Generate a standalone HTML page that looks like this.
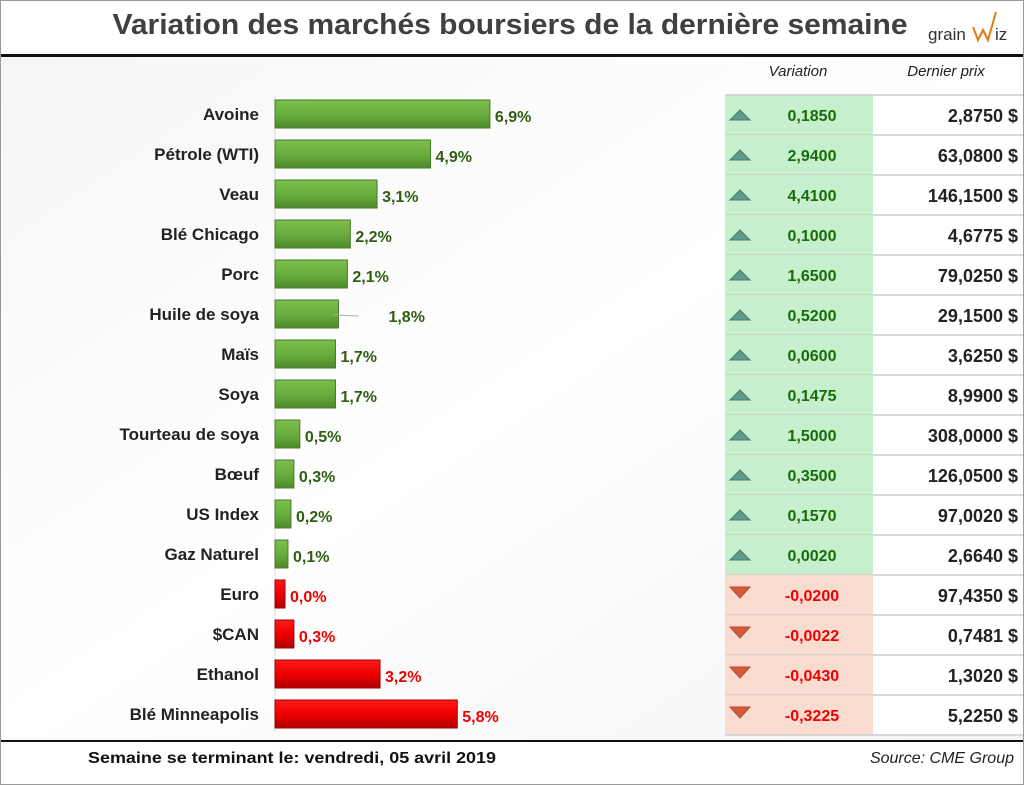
<!DOCTYPE html>
<html><head><meta charset="utf-8"><style>
body{margin:0;width:1024px;height:785px;overflow:hidden;background:#fff;font-family:"Liberation Sans",sans-serif}
svg{display:block}
text{font-family:"Liberation Sans",sans-serif}
</style></head><body>
<svg width="1024" height="785" xmlns="http://www.w3.org/2000/svg">
<defs>
<linearGradient id="bgG" x1="0" y1="0" x2="1" y2="1"><stop offset="0" stop-color="#f6f6f6"/><stop offset="0.5" stop-color="#fff"/><stop offset="1" stop-color="#f4f4f4"/></linearGradient>
<linearGradient id="gG" x1="0" y1="0" x2="0" y2="1"><stop offset="0" stop-color="#7cbf4e"/><stop offset="0.5" stop-color="#6aad3f"/><stop offset="1" stop-color="#4d8a2a"/></linearGradient>
<linearGradient id="rG" x1="0" y1="0" x2="0" y2="1"><stop offset="0" stop-color="#ff1a1a"/><stop offset="0.5" stop-color="#ee0000"/><stop offset="1" stop-color="#b00000"/></linearGradient>
</defs>
<rect x="0" y="57" width="1024" height="684" fill="url(#bgG)"/>
<rect x="873" y="95" width="151" height="640" fill="#fff"/>
<text x="510" y="34" text-anchor="middle" font-size="29" font-weight="bold" fill="#404040" textLength="795" lengthAdjust="spacingAndGlyphs">Variation des marchés boursiers de la dernière semaine</text>
<g>
<text x="928" y="40" font-size="17" fill="#333">grain</text>
<polyline points="973,27 978,40 983,30 988,40 996,12" fill="none" stroke="#e07b10" stroke-width="2"/>
<text x="995" y="40" font-size="17" fill="#333">iz</text>
</g>
<rect x="0" y="54" width="1024" height="3" fill="#111"/>
<text x="798" y="76" text-anchor="middle" font-size="15" font-style="italic" fill="#222">Variation</text>
<text x="946" y="76" text-anchor="middle" font-size="15" font-style="italic" fill="#222">Dernier prix</text>
<line x1="275" y1="96" x2="275" y2="732" stroke="#ddd"/>
<g id="rows"></g>
<rect x="0" y="740" width="1024" height="2" fill="#111"/>
<text x="88" y="763" font-size="16" font-weight="bold" fill="#111" textLength="408" lengthAdjust="spacingAndGlyphs">Semaine se terminant le:  vendredi, 05 avril 2019</text>
<text x="1014" y="763" text-anchor="end" font-size="16" font-style="italic" fill="#222">Source: CME Group</text>
<rect x="0.5" y="0.5" width="1023" height="784" fill="none" stroke="#999"/>
</svg>
<script>
const categories=["Avoine","Pétrole (WTI)","Veau","Blé Chicago","Porc","Huile de soya","Maïs","Soya","Tourteau de soya","Bœuf","US Index","Gaz Naturel","Euro","$CAN","Ethanol","Blé Minneapolis"];
const pctValues=[6.9,4.9,3.1,2.2,2.1,1.8,1.7,1.7,0.5,0.3,0.2,0.1,0.0,0.3,3.2,5.8];
const directions=[1,1,1,1,1,1,1,1,1,1,1,1,-1,-1,-1,-1];
const variations=["0,1850","2,9400","4,4100","0,1000","1,6500","0,5200","0,0600","0,1475","1,5000","0,3500","0,1570","0,0020","-0,0200","-0,0022","-0,0430","-0,3225"];
const prices=["2,8750 $","63,0800 $","146,1500 $","4,6775 $","79,0250 $","29,1500 $","3,6250 $","8,9900 $","308,0000 $","126,0500 $","97,0020 $","2,6640 $","97,4350 $","0,7481 $","1,3020 $","5,2250 $"];
const NS="http://www.w3.org/2000/svg";
const g=document.getElementById('rows');
const xW=v=>10+v*29.7;
const yC=i=>114+i*40;
function mk(tag,attrs,txt){const e=document.createElementNS(NS,tag);for(const k in attrs)e.setAttribute(k,attrs[k]);if(txt!==undefined)e.textContent=txt;g.appendChild(e);return e;}
categories.forEach((c,i)=>{
  const y=yC(i),up=directions[i]>0;
  const txtCol=up?"#2e5e12":"#ee0000";
  let e=mk('text',{x:259,y:y+6,'text-anchor':'end','font-size':17,'font-weight':'bold',fill:'#222'},c);
  
  
  const w=xW(pctValues[i]);
  e=mk('rect',{x:275,y:y-14,width:w,height:28,fill:up?'url(#gG)':'url(#rG)',stroke:up?'#4a7a2a':'#a00000','stroke-width':1});
  
  
  let lx=275+w+5;
  if(c==="Huile de soya"){mk('line',{x1:275+w-5,y1:y+1,x2:275+w+20,y2:y+2,stroke:'#aaa'});lx=275+w+50;}
  e=mk('text',{x:lx,y:y+8,'font-size':16,'font-weight':'bold',fill:txtCol},pctValues[i].toFixed(1).replace('.',',')+'%');
  
  
  e=mk('rect',{x:725,y:y-19,width:148,height:40,fill:up?'#c6efce':'#fadbd0'});
  
  
  mk('line',{x1:725,y1:y+21,x2:1024,y2:y+21,stroke:'#ccc','stroke-width':1.5});
  e=mk('polygon',{points:up?`730,${y+6} 740,${y-4} 750,${y+6}`:`730,${y-7} 750,${y-7} 740,${y+4}`,fill:up?'#5e9a85':'#d2593a',stroke:up?'#4a7d6c':'#b84a2e'});
  
  
  e=mk('text',{x:812,y:y+7,'text-anchor':'middle','font-size':16,'font-weight':'bold',fill:up?'#1a6b0a':'#ee0000'},variations[i]);
  
  
  e=mk('text',{x:1018,y:y+8,'text-anchor':'end','font-size':18,'font-weight':'bold',fill:'#222'},prices[i]);
  
  
});
mk('line',{x1:725,y1:95,x2:1024,y2:95,stroke:'#ccc','stroke-width':1.5});
</script>
</body></html>
